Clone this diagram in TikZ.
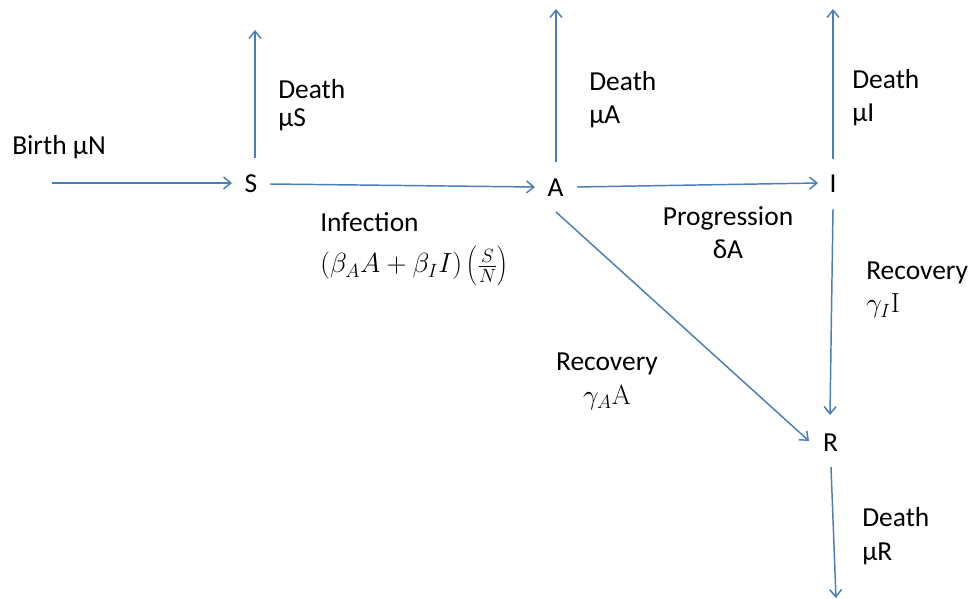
\documentclass[tikz,border=0pt]{standalone}
\usepackage[no-math]{fontspec}
\setmainfont{Carlito}
\usetikzlibrary{arrows.meta,calc}
\definecolor{flowblue}{HTML}{4A7EBB}
\begin{document}
\begin{tikzpicture}[x=0.75pt,y=-0.75pt,
  every node/.style={font=\fontsize{20.6}{24.8}\selectfont, text=black},
  state/.style={inner sep=0pt},
  lbl/.style={inner sep=0pt, align=left, anchor=base west},
  clbl/.style={inner sep=0pt, align=center, anchor=base},
  flow/.style={draw=flowblue, line width=1.1pt,
    -{Straight Barb[length=5.5pt,width=9pt]}}]
\useasboundingbox (0,0) rectangle (972,599);

% compartments
\node[state] (S) at (251,184) {S};
\node[state] (A) at (555.5,187.5) {A};
\node[state] (I) at (833,184) {I};
\node[state] (R) at (830.5,443) {R};

% free ends of the inflow and outflows
\coordinate (birth) at (52,183);
\coordinate (sUp) at (255,30);
\coordinate (aUp) at (556,9);
\coordinate (iUp) at (833,9);
\coordinate (rDown) at (836,598);

% flows
\draw[flow] (birth) -- ($(S)+(-19,-1)$);
\draw[flow] ($(S)+(4,-26)$) -- (sUp);
\draw[flow] ($(S)+(19,0)$) -- ($(A)+(-20.5,-0.5)$);
\draw[flow] ($(A)+(0.5,-25)$) -- (aUp);
\draw[flow] ($(A)+(21.5,-0.5)$) -- ($(I)+(-15,-1)$);
\draw[flow] ($(I)+(0,-25)$) -- (iUp);
\draw[flow] ($(I)+(0,25)$) -- ($(R)+(-0.5,-28)$);
\draw[flow] ($(A)+(0.5,24.5)$) -- ($(R)+(-21.5,-2)$);
\draw[flow] ($(R)+(0.5,24)$) -- (rDown);

% rate labels (anchored at the baseline of their last line)
\node[lbl] (lbirth) at (12,155) {Birth μN};
\node[lbl] (ldS) at (278,127) {Death\\[-3.8pt]μS};
\node[lbl] (ldA) at (589,124) {Death\\μA};
\node[lbl] (ldI) at (852,122) {Death\\μI};
\node[lbl] (ldR) at (862,560) {Death\\μR};
\node[lbl] (linf) at (320,273) {Infection\\[6pt]$(\beta_A A+\beta_I I)\left(\rule[-10.8pt]{0pt}{32pt}{\textstyle\frac{S}{N}}\right)$};
\node[clbl] (lprog) at (728,259) {Progression\\δA};
\node[lbl] (lrecI) at (866,313) {Recovery\\$\gamma_I\mathrm{I}$};
\node[clbl] (lrecA) at (607,404) {Recovery\\$\gamma_A\mathrm{A}$};
\end{tikzpicture}
\end{document}
